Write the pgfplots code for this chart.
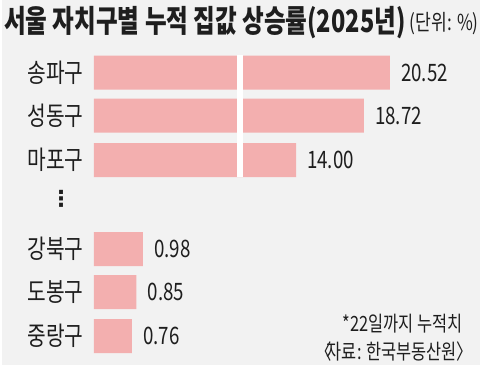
\documentclass[border=0pt]{standalone}
\usepackage{pgfplots}
\pgfplotsset{compat=1.18}
\usepackage{pgfplotstable}
\usepackage{fontspec}
\setmainfont{Noto Sans CJK KR}[FakeStretch=0.78]
\newfontfamily\titlefont{Noto Sans CJK KR}[FakeStretch=0.76]
\newfontfamily\dejavu{DejaVu Sans}
\definecolor{bggray}{HTML}{F2F2F2}
\definecolor{barpink}{HTML}{F3AFAF}
\definecolor{txt}{HTML}{1E1E1E}

\pgfplotstableread{
pos val lab
72.5 20.52 20.52
115.5 18.72 18.72
160 14.00 14.00
249 0.98 0.98
292 0.85 0.85
336 0.76 0.76
}\datatable

\begin{document}
\begin{tikzpicture}[x=1pt,y=1pt]
\fill[white] (0,0) rectangle (480,370);
\fill[bggray] (2,5) rectangle (480,370);
\node[anchor=west, inner sep=0, text=txt, font=\titlefont\bfseries\fontsize{31}{33}\selectfont] at (4,347) {서울 자치구별 누적 집값 상승률(2025년)};
\node[anchor=east, inner sep=0, text=txt, font=\fontsize{22}{24}\selectfont] at (479,346) {(단위: \%)};
\begin{axis}[
  at={(94pt,0pt)}, anchor=south west,
  scale only axis, width=386pt, height=370pt,
  xmin=0, xmax=386, ymin=0, ymax=370, y dir=reverse,
  axis lines=left, axis line style={draw=none}, tick style={draw=none},
  xtick=\empty,
  ytick={72.5,115.5,160,249,292,336},
  yticklabels={송파구,성동구,마포구,강북구,도봉구,중랑구},
  yticklabel style={font=\fontsize{26}{28}\selectfont, text=txt, inner sep=0pt, xshift=-6pt},
  clip=false,
  xbar, bar width=34, bar shift=0pt,
  x filter/.expression={x<2 ? 50*x : 14.4*x+0.4},
  point meta=explicit symbolic,
  nodes near coords,
  nodes near coords style={anchor=west, inner sep=0pt, xshift=11pt, text=txt, font=\fontsize{24}{26}\selectfont},
]
\addplot[fill=barpink, draw=none] table[x=val, y=pos, meta=lab] {\datatable};
\end{axis}
\fill[white] (237,193) rectangle (242.5,315);
\node[text=txt, font=\dejavu\bfseries\fontsize{22}{24}\selectfont] at (61,171) {⋮};
\node[anchor=east, inner sep=0, text=txt, font=\fontsize{21}{23}\selectfont] at (463,46) {*22일까지 누적치};
\node[anchor=east, inner sep=0, text=txt, font=\fontsize{21}{23}\selectfont] at (463,18) {〈\kern-0.25em 자료: 한국부동산원〉\kern-0.5em};
\end{tikzpicture}
\end{document}
